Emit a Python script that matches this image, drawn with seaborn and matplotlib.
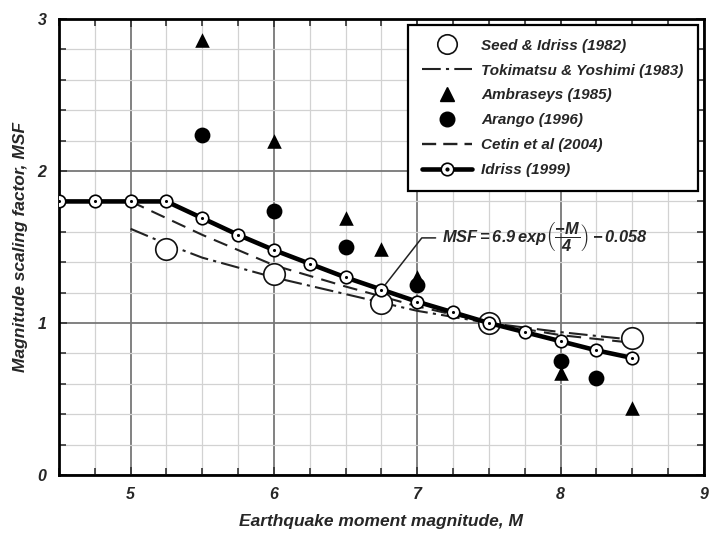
import matplotlib
matplotlib.use("Agg")
import matplotlib.pyplot as plt
from matplotlib.lines import Line2D
from matplotlib.ticker import MultipleLocator
import seaborn as sns

# magnitude scaling factor curves
idriss_m = [4.5, 4.75, 5.0, 5.25, 5.5, 5.75, 6.0, 6.25, 6.5, 6.75, 7.0, 7.25, 7.5, 7.75, 8.0, 8.25, 8.5]
idriss_msf = [1.80, 1.80, 1.80, 1.80, 1.69, 1.58, 1.48, 1.39, 1.30, 1.22, 1.14, 1.07, 1.00, 0.94, 0.88, 0.82, 0.77]

seed_m = [5.25, 6.0, 6.75, 7.5, 8.5]
seed_msf = [1.49, 1.32, 1.13, 1.00, 0.90]

toki_m = [5.0, 5.25, 5.5, 6.0, 6.5, 7.0, 7.5, 8.0, 8.5]
toki_msf = [1.62, 1.52, 1.43, 1.30, 1.19, 1.08, 1.00, 0.94, 0.89]

cetin_m = [5.0, 5.5, 6.0, 6.5, 7.0, 7.5, 8.0, 8.5]
cetin_msf = [1.80, 1.58, 1.38, 1.24, 1.11, 1.00, 0.92, 0.87]

ambr_m = [5.5, 6.0, 6.5, 6.75, 7.0, 8.0, 8.5]
ambr_msf = [2.86, 2.20, 1.69, 1.49, 1.30, 0.67, 0.44]

arango_m = [5.5, 6.0, 6.5, 7.0, 8.0, 8.25]
arango_msf = [2.24, 1.74, 1.50, 1.25, 0.75, 0.64]

labels = ["Seed & Idriss (1982)", "Tokimatsu & Yoshimi (1983)", "Ambraseys (1985)",
          "Arango (1996)", "Cetin et al (2004)", "Idriss (1999)"]

sns.set_style("ticks")
plt.rcParams["font.family"] = ["Liberation Sans", "DejaVu Sans"]
plt.rcParams["font.weight"] = "bold"
plt.rcParams["font.style"] = "italic"
plt.rcParams["axes.labelweight"] = "bold"
plt.rcParams["mathtext.fontset"] = "custom"
plt.rcParams["mathtext.it"] = "Liberation Sans:bold:italic"
plt.rcParams["mathtext.rm"] = "Liberation Sans:bold:italic"
plt.rcParams["mathtext.bf"] = "Liberation Sans:bold:italic"

fig = plt.figure(figsize=(7.1, 5.37), dpi=100)
ax = fig.add_axes([0.083, 0.1155, 0.9085, 0.849])

# grid
ax.xaxis.set_major_locator(MultipleLocator(1))
ax.xaxis.set_minor_locator(MultipleLocator(0.25))
ax.yaxis.set_major_locator(MultipleLocator(1))
ax.yaxis.set_minor_locator(MultipleLocator(0.2))
ax.grid(which="major", color="#777777", linewidth=1.3, zorder=0)
ax.grid(which="minor", color="#d2d2d2", linewidth=0.9, zorder=0)
ax.set_axisbelow(True)

# curves
sns.lineplot(x=toki_m, y=toki_msf, ax=ax, color="#222222", linewidth=1.5,
             estimator=None, sort=False, zorder=3).lines[-1].set_dashes((9, 2.5, 1.5, 2.5))
sns.lineplot(x=cetin_m, y=cetin_msf, ax=ax, color="#222222", linewidth=1.5,
             estimator=None, sort=False, zorder=3).lines[-1].set_dashes((7, 4))

sns.scatterplot(x=seed_m, y=seed_msf, ax=ax, s=240, marker="o", facecolor="white",
                edgecolor="#111111", linewidth=1.2, zorder=4)
sns.scatterplot(x=ambr_m, y=ambr_msf, ax=ax, s=110, marker="^", color="black",
                linewidth=0, zorder=5)
sns.scatterplot(x=arango_m, y=arango_msf, ax=ax, s=130, marker="o", color="black",
                linewidth=0, zorder=5)

sns.lineplot(x=idriss_m, y=idriss_msf, ax=ax, color="black", linewidth=3.3,
             marker="o", markersize=9, markerfacecolor="white", markeredgecolor="black",
             markeredgewidth=1.2, estimator=None, sort=False, zorder=6)
sns.scatterplot(x=idriss_m, y=idriss_msf, ax=ax, s=5, color="black", linewidth=0, zorder=7)

ax.set_xlim(4.5, 9)
ax.set_ylim(0, 3)

# ticks and spines
ax.tick_params(which="both", direction="in", top=True, right=True, width=1.2, color="#333333")
ax.tick_params(which="major", length=6, labelsize=11.5, pad=9)
ax.tick_params(which="minor", length=5)
ax.set_xticks([5, 6, 7, 8, 9])
ax.set_xticklabels(["5", "6", "7", "8", "9"])
ax.set_yticks([0, 1, 2, 3])
ax.set_yticklabels(["0", "1", "2", "3"])
for sp in ax.spines.values():
    sp.set_visible(True)
    sp.set_linewidth(2)
    sp.set_color("black")

ax.set_xlabel("Earthquake moment magnitude, M", fontsize=12.5, fontweight="bold", labelpad=8)
ax.set_ylabel("Magnitude scaling factor, MSF", fontsize=12.5, fontweight="bold", labelpad=7)

# equation with leader line
ax.annotate(r"$MSF = 6.9\,exp\left(\dfrac{-M}{4}\right) - 0.058$",
            xy=(6.75, 1.22), xytext=(7.17, 1.56), fontsize=11.8, ha="left", va="center",
            arrowprops=dict(arrowstyle="-", color="#222222", linewidth=1.1,
                            connectionstyle="angle,angleA=0,angleB=52,rad=0",
                            shrinkA=2, shrinkB=4),
            zorder=8)

# legend
handles = [
    Line2D([], [], linestyle="none", marker="o", markersize=14, markerfacecolor="white",
           markeredgecolor="#111111", markeredgewidth=1.2),
    Line2D([], [], color="#222222", linewidth=1.5, dashes=(9, 2.5, 1.5, 2.5)),
    Line2D([], [], linestyle="none", marker="^", markersize=10, color="black"),
    Line2D([], [], linestyle="none", marker="o", markersize=10.5, color="black"),
    Line2D([], [], color="#222222", linewidth=1.7, dashes=(6, 3)),
    (Line2D([], [], color="black", linewidth=3.3, marker="o", markersize=9,
            markerfacecolor="white", markeredgecolor="black", markeredgewidth=1.2),
     Line2D([], [], linestyle="none", marker="o", markersize=2, color="black")),
]
leg = ax.legend(handles, labels, loc="upper right", bbox_to_anchor=(0.99, 0.987),
                fontsize=11, frameon=True, fancybox=False, framealpha=1,
                edgecolor="black", handlelength=3.3, handletextpad=0.6,
                labelspacing=0.71, borderpad=0.9, borderaxespad=0)
leg.get_frame().set_linewidth(1.6)
leg.set_zorder(10)

fig.savefig("out.png", dpi=100)
